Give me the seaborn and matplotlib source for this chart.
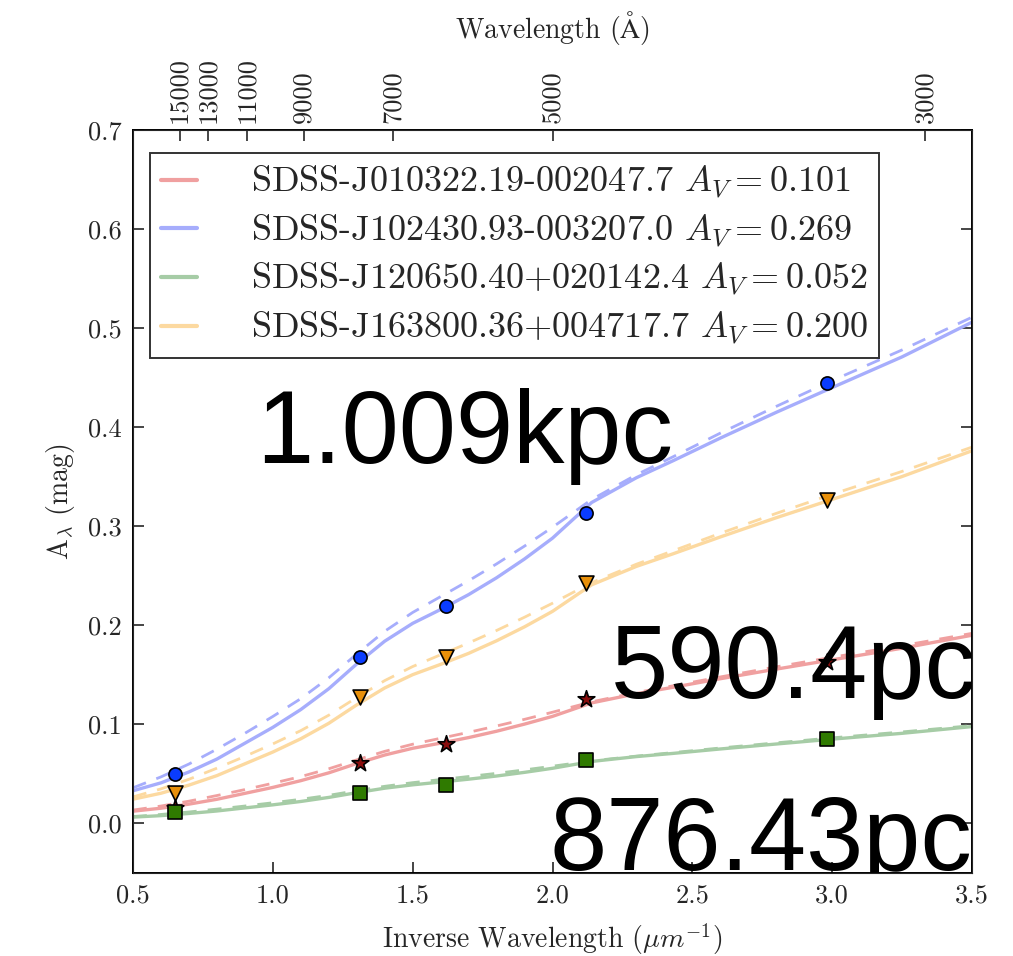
import matplotlib
matplotlib.use("Agg")
import matplotlib.pyplot as plt
import seaborn as sns
from matplotlib.lines import Line2D

# Inverse-wavelength grid of the fitted extinction curves (1/um)
curve_x = [0.5, 0.6, 0.7, 0.8, 0.9, 1.0, 1.1, 1.2, 1.3, 1.4, 1.5, 1.6, 1.7,
           1.8, 1.9, 2.0, 2.14, 2.3, 2.43, 2.6, 2.8, 3.0, 3.25, 3.5]

# Photometric band centres (1/um)
band_x = [0.65, 1.31, 1.62, 2.12, 2.98]

star_names = ["SDSS-J010322.19-002047.7", "SDSS-J102430.93-003207.0",
              "SDSS-J120650.40+020142.4", "SDSS-J163800.36+004717.7"]
av_values = [0.101, 0.269, 0.052, 0.200]

# Fitted curves (solid) and comparison curves (dashed), A_lambda in mag
red_fit = [0.0124, 0.0154, 0.0195, 0.0244, 0.0304, 0.0364, 0.0432, 0.0511, 0.0605, 0.0691, 0.0759, 0.0811,
           0.0867, 0.0931, 0.1003, 0.1081, 0.1217, 0.1310, 0.1374, 0.1461, 0.1558, 0.1652, 0.1769, 0.1900]
red_dash = [0.0135, 0.0176, 0.0225, 0.0282, 0.0342, 0.0406, 0.0473, 0.0552, 0.0642, 0.0728, 0.0800, 0.0860,
            0.0920, 0.0984, 0.1051, 0.1123, 0.1228, 0.1322, 0.1389, 0.1479, 0.1581, 0.1678, 0.1795, 0.1919]
blue_fit = [0.033, 0.041, 0.052, 0.065, 0.081, 0.097, 0.115, 0.136, 0.161, 0.184, 0.202, 0.216,
            0.231, 0.248, 0.267, 0.288, 0.324, 0.349, 0.366, 0.389, 0.415, 0.440, 0.471, 0.506]
blue_dash = [0.036, 0.047, 0.060, 0.075, 0.091, 0.108, 0.126, 0.147, 0.171, 0.194, 0.213, 0.229,
             0.245, 0.262, 0.280, 0.299, 0.327, 0.352, 0.370, 0.394, 0.421, 0.447, 0.478, 0.511]
green_fit = [0.0064, 0.0079, 0.0101, 0.0126, 0.0157, 0.0188, 0.0222, 0.0263, 0.0311, 0.0356, 0.0390, 0.0418,
             0.0447, 0.0479, 0.0516, 0.0557, 0.0626, 0.0675, 0.0707, 0.0752, 0.0802, 0.0851, 0.0910, 0.0978]
green_dash = [0.0070, 0.0091, 0.0116, 0.0145, 0.0176, 0.0209, 0.0244, 0.0284, 0.0331, 0.0375, 0.0412, 0.0443,
              0.0474, 0.0506, 0.0541, 0.0578, 0.0632, 0.0680, 0.0715, 0.0762, 0.0814, 0.0864, 0.0924, 0.0988]
orange_fit = [0.0245, 0.0305, 0.0387, 0.0483, 0.0602, 0.0721, 0.0855, 0.1011, 0.1197, 0.1368, 0.1502, 0.1606,
              0.1717, 0.1844, 0.1985, 0.2141, 0.2409, 0.2595, 0.2721, 0.2892, 0.3086, 0.3271, 0.3502, 0.3762]
orange_dash = [0.0268, 0.0349, 0.0446, 0.0558, 0.0677, 0.0803, 0.0937, 0.1093, 0.1271, 0.1442, 0.1584, 0.1703,
               0.1822, 0.1948, 0.2082, 0.2223, 0.2431, 0.2617, 0.2751, 0.2929, 0.3130, 0.3323, 0.3554, 0.3799]

# Measured band extinctions (mag)
red_pts = [0.016, 0.061, 0.080, 0.126, 0.163]
blue_pts = [0.050, 0.168, 0.220, 0.313, 0.445]
green_pts = [0.012, 0.031, 0.039, 0.064, 0.085]
orange_pts = [0.031, 0.128, 0.168, 0.243, 0.327]

# Wavelength ticks for the top axis (Angstrom)
top_ticks = [15000, 13000, 11000, 9000, 7000, 5000, 3000]

# Distance annotations
dist_labels = ["1.009kpc", "590.4pc", "876.43pc"]

sns.set_style("ticks")
plt.rcParams["font.family"] = ["cmr10", "DejaVu Serif"]
plt.rcParams["mathtext.fontset"] = "cm"
plt.rcParams["axes.unicode_minus"] = False
plt.rcParams["axes.formatter.use_mathtext"] = True

fig = plt.figure(figsize=(10.13, 9.56), dpi=100)
ax = fig.add_axes([133 / 1013, 1 - 873 / 956, (972 - 133) / 1013, (873 - 130) / 956])

line_colors = ["#f0a0a0", "#a6adfc", "#a6cca6", "#fcd9a0"]
marker_faces = ["#8a0d0d", "#0a3cff", "#2f7a00", "#e8900a"]
markers = ["*", "o", "s", "v"]
marker_sizes = [160, 90, 115, 115]
fits = [red_fit, blue_fit, green_fit, orange_fit]
dashes = [red_dash, blue_dash, green_dash, orange_dash]
points = [red_pts, blue_pts, green_pts, orange_pts]

for i in range(4):
    sns.lineplot(x=curve_x, y=fits[i], ax=ax, color=line_colors[i], lw=2.4,
                 sort=False, estimator=None, legend=False, zorder=2)
    sns.lineplot(x=curve_x, y=dashes[i], ax=ax, color=line_colors[i], lw=2.0,
                 linestyle=(0, (5, 4)), sort=False, estimator=None, legend=False, zorder=2)
for i in range(4):
    sns.scatterplot(x=band_x, y=points[i], ax=ax, marker=markers[i], s=marker_sizes[i],
                    color=marker_faces[i], edgecolor="black", linewidth=1.2,
                    legend=False, zorder=3)

ax.set_xlim(0.5, 3.5)
ax.set_ylim(-0.05, 0.7)
ax.set_xticks([0.5, 1.0, 1.5, 2.0, 2.5, 3.0, 3.5])
ax.set_yticks([0.0, 0.1, 0.2, 0.3, 0.4, 0.5, 0.6, 0.7])
ax.xaxis.set_major_formatter(matplotlib.ticker.FormatStrFormatter("%.1f"))
ax.yaxis.set_major_formatter(matplotlib.ticker.FormatStrFormatter("%.1f"))
ax.tick_params(axis="both", which="major", direction="in", length=8, width=1.2,
               labelsize=19, right=True, top=False, pad=8)
for sp in ax.spines.values():
    sp.set_linewidth(1.4)
    sp.set_color("black")
ax.set_xlabel(r"Inverse Wavelength ($\mu m^{-1}$)", fontsize=20, labelpad=10)
ax.set_ylabel(r"A$_\lambda$ (mag)", fontsize=20, labelpad=8)

ax_top = ax.twiny()
ax_top.set_xlim(ax.get_xlim())
ax_top.set_xticks([1e4 / w for w in top_ticks])
ax_top.set_xticklabels([str(w) for w in top_ticks], rotation=90)
ax_top.tick_params(axis="x", direction="in", length=8, width=1.2, labelsize=19, pad=5)
ax_top.set_xlabel(r"Wavelength ($\mathrm{\AA}$)", fontsize=20, labelpad=14)

handles = [Line2D([0], [0], color=line_colors[i], lw=3) for i in range(4)]
labels = [f"{star_names[i]} $A_V = {av_values[i]:.3f}$" for i in range(4)]
leg = ax.legend(handles, labels, loc="upper left", bbox_to_anchor=(17 / 839, 1 - 23 / 743),
                borderaxespad=0, fontsize=26, frameon=True, fancybox=False,
                handlelength=1.0, handletextpad=1.5, labelspacing=0.32, borderpad=0.3)
leg.get_frame().set_edgecolor("black")
leg.get_frame().set_linewidth(1.4)

dist_pos = [(0.94, 0.364), (2.209, 0.127), (1.991, -0.047)]
for lab, (tx, ty) in zip(dist_labels, dist_pos):
    ax.text(tx, ty, lab, fontsize=74, family="Liberation Sans", color="black",
            ha="left", va="baseline", clip_on=True, zorder=5)

fig.savefig("out.png", dpi=100)
